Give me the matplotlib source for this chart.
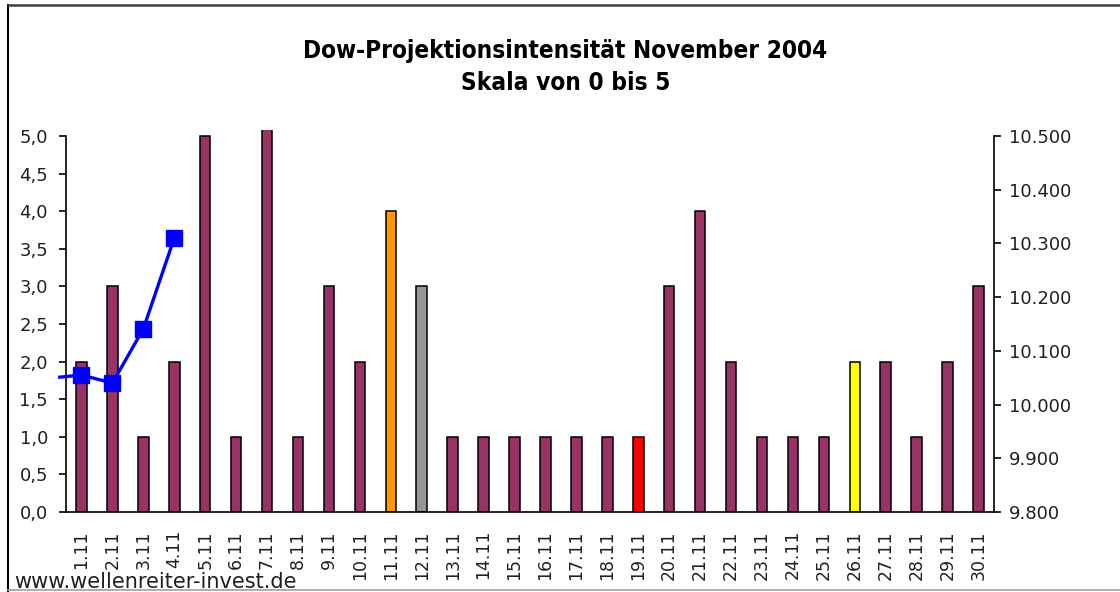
import numpy as np
import matplotlib
matplotlib.use('Agg')
import matplotlib.pyplot as plt
from matplotlib.lines import Line2D
from matplotlib.ticker import FuncFormatter

# -------------------------------------------

days = ['%d.11' % d for d in range(1, 31)]
intensity = [2, 3, 1, 2, 5, 1, 5.5, 1, 3, 2, 4, 3, 1, 1, 1, 1, 1, 1, 1, 3, 4, 2, 1, 1, 1, 2, 2, 1, 2, 3]
special = {'11.11': '#FF9900', '12.11': '#969696', '19.11': '#FF0000', '26.11': '#FFFF00'}

# Dow close, first value is the carry-over from end of October
dow_pos = [0.3, 1, 2, 3, 4]
dow_close = [10051, 10055, 10040, 10141, 10310]

title = 'Dow-Projektionsintensität November 2004\nSkala von 0 bis 5'
source = 'www.wellenreiter-invest.de'

# -------------------------------------------

W, H = 1120, 592
fig = plt.figure(figsize=(W/100, H/100), dpi=100)
plt.rcParams['font.family'] = ['DejaVu Sans']

def px(x, y):
    return x/W, 1 - y/H

l, b = px(66, 512)
r, t = px(994, 130)
ax = fig.add_axes([l, b, r-l, t-b])

x = np.arange(1, 31)
colors = [special.get(d, '#993366') for d in days]
ax.bar(x, intensity, width=0.34, color=colors, edgecolor='black', linewidth=1.1, zorder=2)

ax.set_xlim(0.5, 30.5)
ax.set_ylim(0, 5.08)
ax.set_yticks(np.arange(0, 5.01, 0.5))
ax.yaxis.set_major_formatter(FuncFormatter(lambda v, p: ('%.1f' % v).replace('.', ',')))
ax.set_xticks(x)
ax.set_xticklabels(days, rotation=90, fontsize=12.5, color='#202020')
ax.tick_params(axis='x', length=0, pad=13)
ax.tick_params(axis='y', length=5, width=1.2, labelsize=13, labelcolor='#202020', pad=8, direction='out')
for s in ['top', 'right']:
    ax.spines[s].set_visible(False)
ax.spines['left'].set_bounds(0, 5)
ax.spines['left'].set_linewidth(1.2)
ax.spines['bottom'].set_linewidth(1.2)

ax2 = ax.twinx()
ax2.set_ylim(9800, 9800 + 5.08*140)
ax2.set_yticks(np.arange(9800, 10501, 100))
ax2.yaxis.set_major_formatter(FuncFormatter(lambda v, p: '{:,.0f}'.format(v).replace(',', '.')))
ax2.tick_params(axis='y', length=5, width=1.2, labelsize=13, labelcolor='#202020', pad=6, direction='out')
for s in ['top', 'left', 'bottom']:
    ax2.spines[s].set_visible(False)
ax2.spines['right'].set_bounds(9800, 10500)
ax2.spines['right'].set_linewidth(1.2)
ax2.plot(dow_pos, dow_close, color='#0000FF', lw=2.4, marker='s', markersize=12,
         markevery=list(range(1, len(dow_pos))), clip_on=False, zorder=3)

fig.text(0.505, 1 - 67/H, title, ha='center', va='center', fontsize=17.5, fontweight='bold',
         fontstretch='condensed', linespacing=1.4, family='DejaVu Sans')
fig.text(14/W, 1 - 588/H, source, ha='left', va='baseline', fontsize=15, color='#202020')

# chart frame
fig.add_artist(Line2D([8/W, 8/W], [0, 1 - 5/H], color='black', lw=1.5))
fig.add_artist(Line2D([8/W, 1], [1 - 5/H, 1 - 5/H], color='#404040', lw=1.8))
fig.add_artist(Line2D([8/W, 1], [1 - 590/H, 1 - 590/H], color='#A0A0A0', lw=1.2))

fig.savefig('out.png', dpi=100)
